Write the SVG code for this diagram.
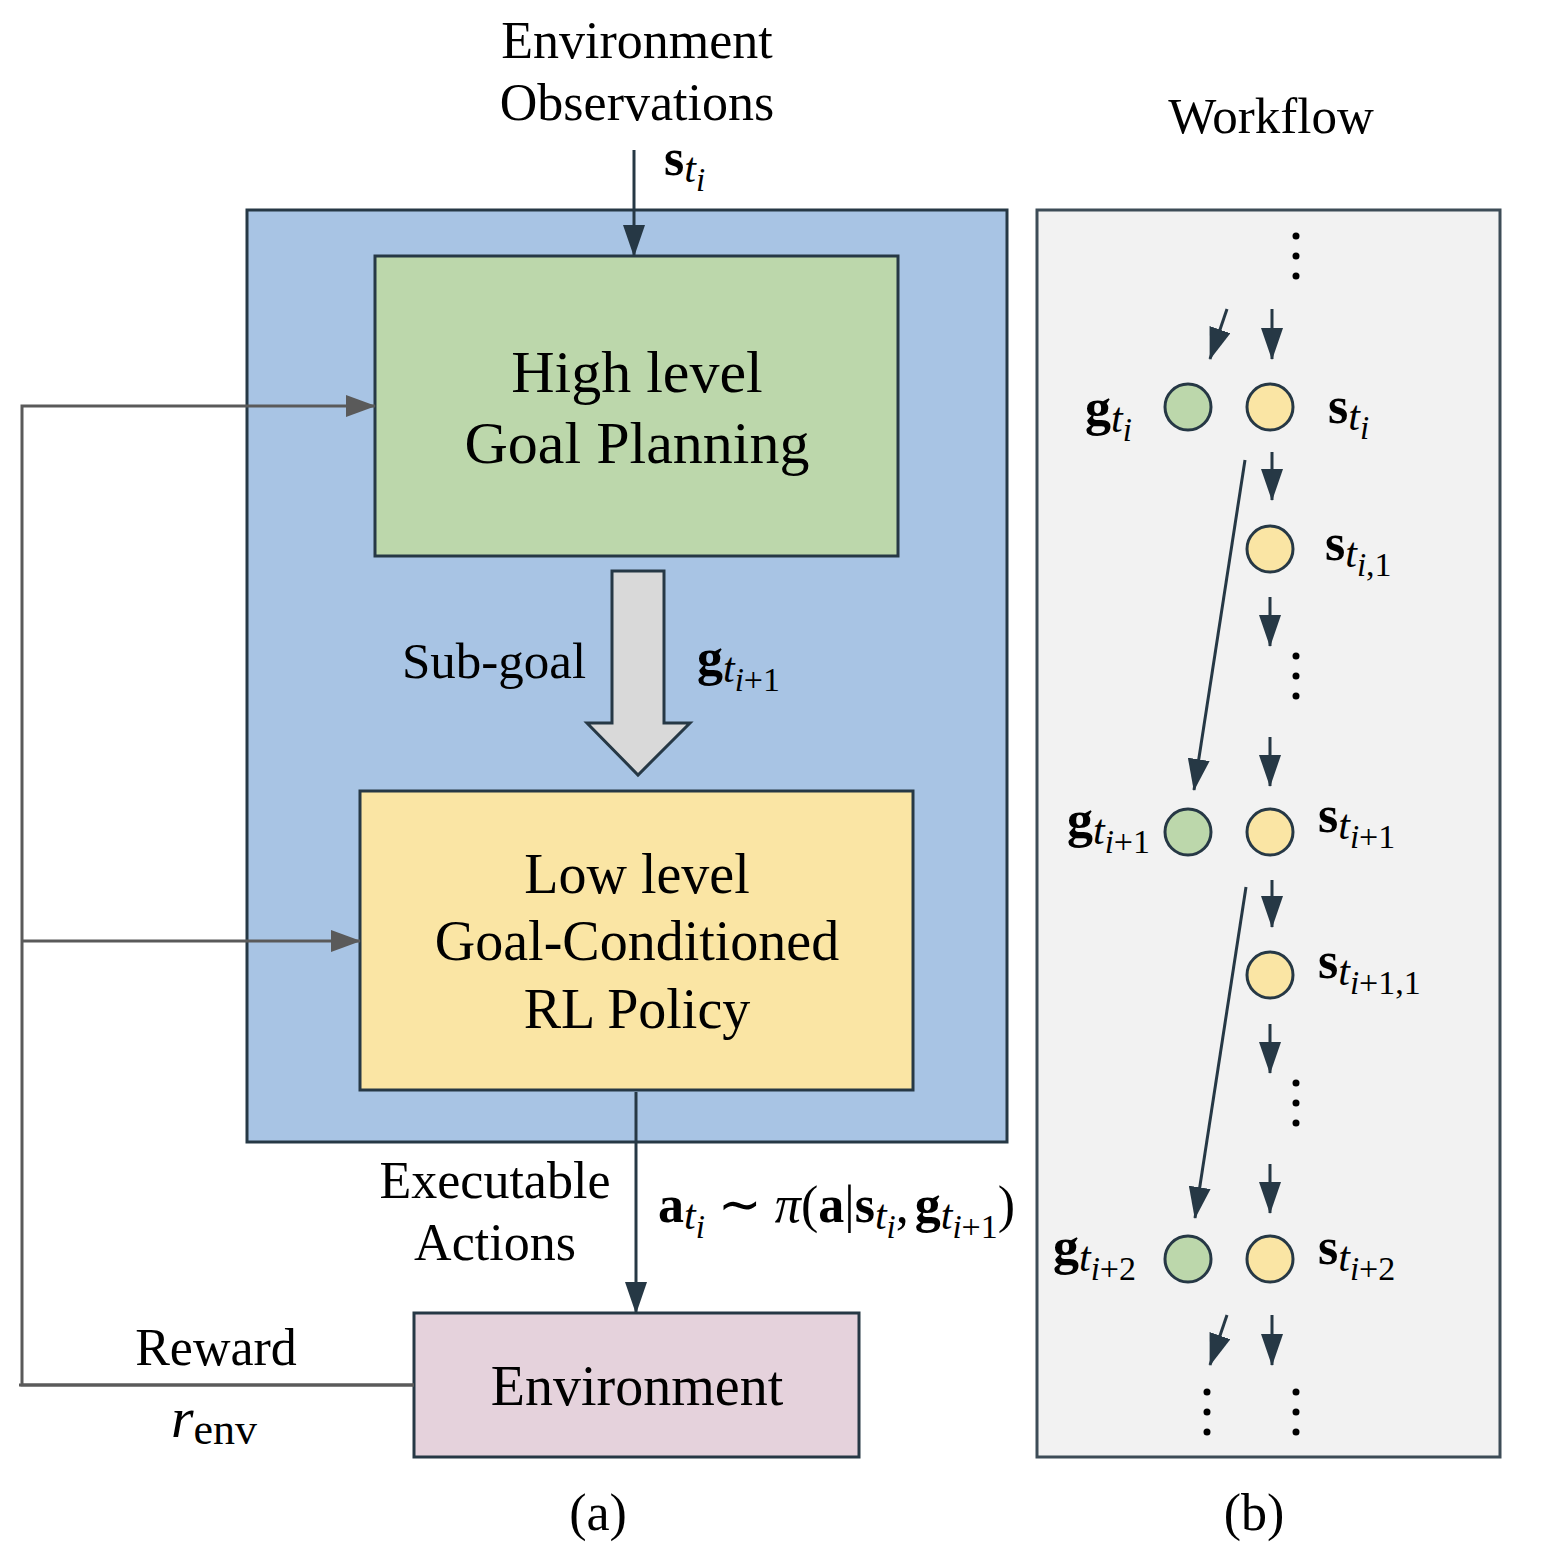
<svg xmlns="http://www.w3.org/2000/svg" width="1564" height="1554" viewBox="0 0 1564 1554">
<style>
.lbl{font-family:"Liberation Serif","Times New Roman",serif;fill:#000;text-anchor:middle}
.m{font-family:"Liberation Serif","Times New Roman",serif;fill:#000;font-size:52px}
.b{font-weight:bold}
.it{font-style:italic}
.t1{font-style:italic;font-size:42px}
.t2{font-size:34px}
.t2i{font-size:33px;font-style:italic}
.box{stroke:#263845;stroke-width:3}
.dk{stroke:#263845;stroke-width:3;fill:none}
.gr{stroke:#5a5a5a;stroke-width:3;fill:none}
.dot{fill:#000}
.cg{fill:#bcd7ab;stroke:#263845;stroke-width:3}
.cy{fill:#fae5a4;stroke:#263845;stroke-width:3}
</style>
<defs>
<marker id="ad" viewBox="0 0 32 22" markerUnits="userSpaceOnUse" markerWidth="32" markerHeight="22" refX="31" refY="11" orient="auto">
<path d="M0,0 L32,11 L0,22 z" fill="#263845"/>
</marker>
<marker id="ag" viewBox="0 0 30 22" markerUnits="userSpaceOnUse" markerWidth="30" markerHeight="22" refX="29" refY="11" orient="auto">
<path d="M0,0 L30,11 L0,22 z" fill="#5a5a5a"/>
</marker>
</defs>
<rect width="1564" height="1554" fill="#fff"/>

<g id="container-a">
<rect x="247" y="210" width="760" height="932" fill="#a8c4e4" class="box"/>
</g>
<g id="panel-b">
<rect x="1037" y="210" width="463" height="1247" fill="#f2f2f2" stroke="#3d4c57" stroke-width="3"/>
</g>

<g id="high-level">
<rect x="375" y="256" width="523" height="300" fill="#bcd7ab" class="box"/>
<text class="lbl" x="637" y="392" font-size="60">High level</text>
<text class="lbl" x="637" y="463" font-size="60">Goal Planning</text>
</g>
<g id="low-level">
<rect x="360" y="791" width="553" height="299" fill="#fae5a4" class="box"/>
<text class="lbl" x="637" y="893" font-size="56">Low level</text>
<text class="lbl" x="637" y="960" font-size="56">Goal-Conditioned</text>
<text class="lbl" x="637" y="1028" font-size="56">RL Policy</text>
</g>
<g id="environment">
<rect x="414" y="1313" width="445" height="144" fill="#e5d2dc" class="box"/>
<text class="lbl" x="637" y="1405" font-size="56">Environment</text>
</g>

<g id="connectors">
<line x1="634" y1="150" x2="634" y2="256" class="dk" marker-end="url(#ad)"/>
<path d="M612,571 L664,571 L664,723 L690,723 L638,775 L587,723 L612,723 Z" fill="#d9d9d9" stroke="#263845" stroke-width="3" stroke-linejoin="miter"/>
<line x1="636" y1="1092" x2="636" y2="1313" class="dk" marker-end="url(#ad)"/>
<polyline points="414,1385 22,1385 22,406 375,406" class="gr" marker-end="url(#ag)"/>
<line x1="19" y1="1385" x2="414" y2="1385" class="gr"/>
<line x1="22" y1="941" x2="360" y2="941" class="gr" marker-end="url(#ag)"/>

<line x1="1227" y1="309" x2="1210" y2="359" class="dk" marker-end="url(#ad)"/>
<line x1="1272" y1="309" x2="1272" y2="359" class="dk" marker-end="url(#ad)"/>
<line x1="1272" y1="452" x2="1272" y2="500" class="dk" marker-end="url(#ad)"/>
<line x1="1245" y1="460" x2="1194" y2="790" class="dk" marker-end="url(#ad)"/>
<line x1="1270" y1="597" x2="1270" y2="646" class="dk" marker-end="url(#ad)"/>
<line x1="1270" y1="737" x2="1270" y2="786" class="dk" marker-end="url(#ad)"/>
<line x1="1272" y1="880" x2="1272" y2="927" class="dk" marker-end="url(#ad)"/>
<line x1="1246" y1="887" x2="1195" y2="1218" class="dk" marker-end="url(#ad)"/>
<line x1="1270" y1="1024" x2="1270" y2="1073" class="dk" marker-end="url(#ad)"/>
<line x1="1270" y1="1164" x2="1270" y2="1213" class="dk" marker-end="url(#ad)"/>
<line x1="1227" y1="1315" x2="1210" y2="1365" class="dk" marker-end="url(#ad)"/>
<line x1="1272" y1="1315" x2="1272" y2="1365" class="dk" marker-end="url(#ad)"/>
</g>

<g id="dots">
<circle class="dot" cx="1296" cy="236" r="3.5"/><circle class="dot" cx="1296" cy="256" r="3.5"/><circle class="dot" cx="1296" cy="276" r="3.5"/>
<circle class="dot" cx="1296" cy="656" r="3.5"/><circle class="dot" cx="1296" cy="676" r="3.5"/><circle class="dot" cx="1296" cy="696" r="3.5"/>
<circle class="dot" cx="1296" cy="1083" r="3.5"/><circle class="dot" cx="1296" cy="1103" r="3.5"/><circle class="dot" cx="1296" cy="1123" r="3.5"/>
<circle class="dot" cx="1207" cy="1392" r="3.5"/><circle class="dot" cx="1207" cy="1412" r="3.5"/><circle class="dot" cx="1207" cy="1432" r="3.5"/>
<circle class="dot" cx="1296" cy="1392" r="3.5"/><circle class="dot" cx="1296" cy="1412" r="3.5"/><circle class="dot" cx="1296" cy="1432" r="3.5"/>
</g>

<g id="node-g-ti"><circle class="cg" cx="1188" cy="407" r="23"/></g>
<g id="node-s-ti"><circle class="cy" cx="1270" cy="407" r="23"/></g>
<g id="node-s-ti1"><circle class="cy" cx="1270" cy="549" r="23"/></g>
<g id="node-g-ti+1"><circle class="cg" cx="1188" cy="832" r="23"/></g>
<g id="node-s-ti+1"><circle class="cy" cx="1270" cy="832" r="23"/></g>
<g id="node-s-ti+1-1"><circle class="cy" cx="1270" cy="975" r="23"/></g>
<g id="node-g-ti+2"><circle class="cg" cx="1188" cy="1259" r="23"/></g>
<g id="node-s-ti+2"><circle class="cy" cx="1270" cy="1259" r="23"/></g>

<g id="labels">
<text class="lbl" x="637" y="58" font-size="52">Environment</text>
<text class="lbl" x="637" y="120" font-size="52">Observations</text>
<text class="lbl" x="1271" y="133" font-size="51">Workflow</text>
<text class="lbl" x="494" y="678" font-size="51">Sub-goal</text>
<text class="lbl" x="495" y="1198" font-size="52">Executable</text>
<text class="lbl" x="495" y="1260" font-size="52">Actions</text>
<text class="lbl" x="216" y="1365" font-size="52">Reward</text>
<text class="lbl" x="598" y="1530" font-size="52">(a)</text>
<text class="lbl" x="1254" y="1530" font-size="52">(b)</text>

<text class="m" x="664" y="175"><tspan class="b">s</tspan><tspan class="t1" dy="7">t</tspan><tspan class="t2i" dy="9">i</tspan></text>
<text class="m" x="697" y="675"><tspan class="b">g</tspan><tspan class="t1" dy="7">t</tspan><tspan class="t2i" dy="9">i</tspan><tspan class="t2">+1</tspan></text>
<text class="m" x="171" y="1437"><tspan class="it" font-size="58">r</tspan><tspan font-size="44" dy="7">env</tspan></text>
<text class="m" x="658" y="1222"><tspan class="b">a</tspan><tspan class="t1" dy="7">t</tspan><tspan class="t2i" dy="9">i</tspan><tspan dy="-16"> ∼ </tspan><tspan class="it">π</tspan><tspan>(</tspan><tspan class="b">a</tspan><tspan>|</tspan><tspan class="b">s</tspan><tspan class="t1" dy="7">t</tspan><tspan class="t2i" dy="9">i</tspan><tspan dy="-16">,</tspan><tspan class="b" dx="6">g</tspan><tspan class="t1" dy="7">t</tspan><tspan class="t2i" dy="9">i</tspan><tspan class="t2">+1</tspan><tspan dy="-16">)</tspan></text>

<text class="m" x="1085" y="425"><tspan class="b">g</tspan><tspan class="t1" dy="7">t</tspan><tspan class="t2i" dy="9">i</tspan></text>
<text class="m" x="1328" y="423"><tspan class="b">s</tspan><tspan class="t1" dy="7">t</tspan><tspan class="t2i" dy="9">i</tspan></text>
<text class="m" x="1325" y="560"><tspan class="b">s</tspan><tspan class="t1" dy="7">t</tspan><tspan class="t2i" dy="9">i</tspan><tspan class="t2">,1</tspan></text>
<text class="m" x="1067" y="837"><tspan class="b">g</tspan><tspan class="t1" dy="7">t</tspan><tspan class="t2i" dy="9">i</tspan><tspan class="t2">+1</tspan></text>
<text class="m" x="1318" y="832"><tspan class="b">s</tspan><tspan class="t1" dy="7">t</tspan><tspan class="t2i" dy="9">i</tspan><tspan class="t2">+1</tspan></text>
<text class="m" x="1318" y="978"><tspan class="b">s</tspan><tspan class="t1" dy="7">t</tspan><tspan class="t2i" dy="9">i</tspan><tspan class="t2">+1,1</tspan></text>
<text class="m" x="1053" y="1264"><tspan class="b">g</tspan><tspan class="t1" dy="7">t</tspan><tspan class="t2i" dy="9">i</tspan><tspan class="t2">+2</tspan></text>
<text class="m" x="1318" y="1264"><tspan class="b">s</tspan><tspan class="t1" dy="7">t</tspan><tspan class="t2i" dy="9">i</tspan><tspan class="t2">+2</tspan></text>
</g>
</svg>
